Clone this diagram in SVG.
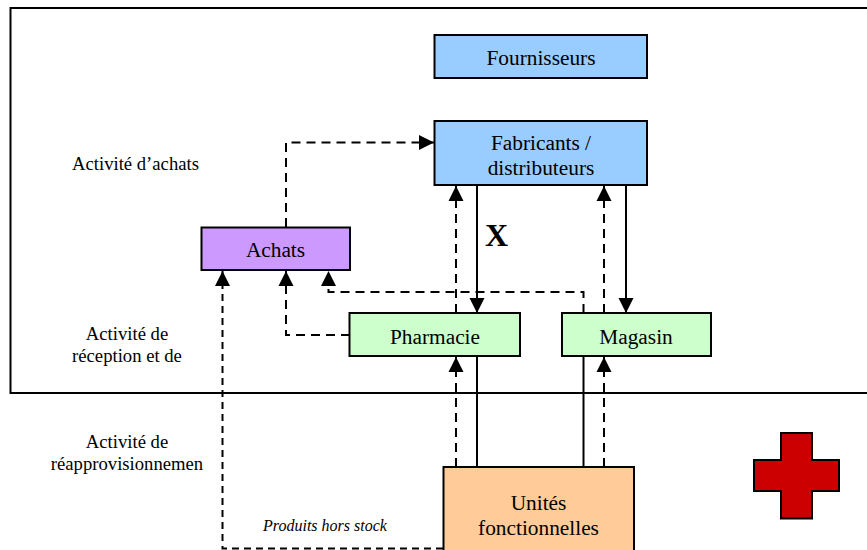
<svg xmlns="http://www.w3.org/2000/svg" width="867" height="550" viewBox="0 0 867 550">
<style>
text{font-family:"Liberation Serif","Times New Roman",serif;fill:#000;text-anchor:middle}
.n{font-size:21.33px}
.l{font-size:18.67px}
.box{stroke:#000;stroke-width:2}
.s,.d{fill:none;stroke:#000;stroke-width:2}
.d{stroke-dasharray:9 6}
</style>
<defs>
<marker id="a" markerUnits="userSpaceOnUse" markerWidth="16" markerHeight="16" refX="15" refY="8" orient="auto"><path d="M0 0.5L15 8L0 15.5Z" fill="#000"/></marker>
</defs>
<rect width="867" height="550" fill="#fff"/>
<path id="frame" d="M867 8H10.5V393H867" fill="none" stroke="#000" stroke-width="2"/>
<g id="connectors">
<path class="d" d="M286 227V142.500H434" marker-end="url(#a)"/>
<path class="d" d="M456 313V186" marker-end="url(#a)"/>
<path class="s" d="M477 185V313" marker-end="url(#a)"/>
<path class="d" d="M604 313V186" marker-end="url(#a)"/>
<path class="s" d="M626 185V313" marker-end="url(#a)"/>
<path class="d" d="M583.500 313V292H328.500V271" marker-end="url(#a)"/>
<path class="d" d="M350 335H286V271" marker-end="url(#a)"/>
<path class="d" style="stroke-dasharray:7 5" d="M443 548.500H222.500V271" marker-end="url(#a)"/>
<path class="d" d="M456 467V357" marker-end="url(#a)"/>
<path class="s" d="M477 467V356"/>
<path class="s" d="M583.500 467V356"/>
<path class="d" d="M604 467V357" marker-end="url(#a)"/>
</g>
<g id="fournisseurs"><rect class="box" x="434.500" y="35" width="212.500" height="43" fill="#99ccff"/><text class="n" x="541" y="65">Fournisseurs</text></g>
<g id="fabricants"><rect class="box" x="434.500" y="121" width="212.500" height="64" fill="#99ccff"/><text class="n" x="541" y="150">Fabricants /</text><text class="n" x="541" y="175">distributeurs</text></g>
<g id="achats"><rect class="box" x="201.500" y="227.500" width="148.500" height="42.500" fill="#cc99ff"/><text class="n" x="275.500" y="257">Achats</text></g>
<g id="pharmacie"><rect class="box" x="349.500" y="313" width="170.500" height="43" fill="#ccffcc"/><text class="n" x="435" y="344">Pharmacie</text></g>
<g id="magasin"><rect class="box" x="562" y="313" width="149" height="43" fill="#ccffcc"/><text class="n" x="636" y="344">Magasin</text></g>
<g id="unites"><rect class="box" x="443.500" y="467" width="190.500" height="90" fill="#ffcc99"/><text class="n" x="538.500" y="510">Unités</text><text class="n" x="538.500" y="535">fonctionnelles</text></g>
<g id="croix"><path d="M781 433H812V460H839V491H812V518.500H781V491H754V460H781Z" fill="#cc0000" stroke="#000" stroke-width="2"/></g>
<g id="labels">
<text x="496.500" y="246" style="font-size:32px;font-weight:bold">X</text>
<text class="l" x="135.500" y="170">Activité d’achats</text>
<text class="l" x="127" y="340">Activité de</text>
<text class="l" x="127" y="362">réception et de</text>
<text class="l" x="127" y="448">Activité de</text>
<text class="l" x="127" y="470">réapprovisionnemen</text>
<text x="325" y="531" style="font-size:16px;font-style:italic">Produits hors stock</text>
</g>
</svg>
